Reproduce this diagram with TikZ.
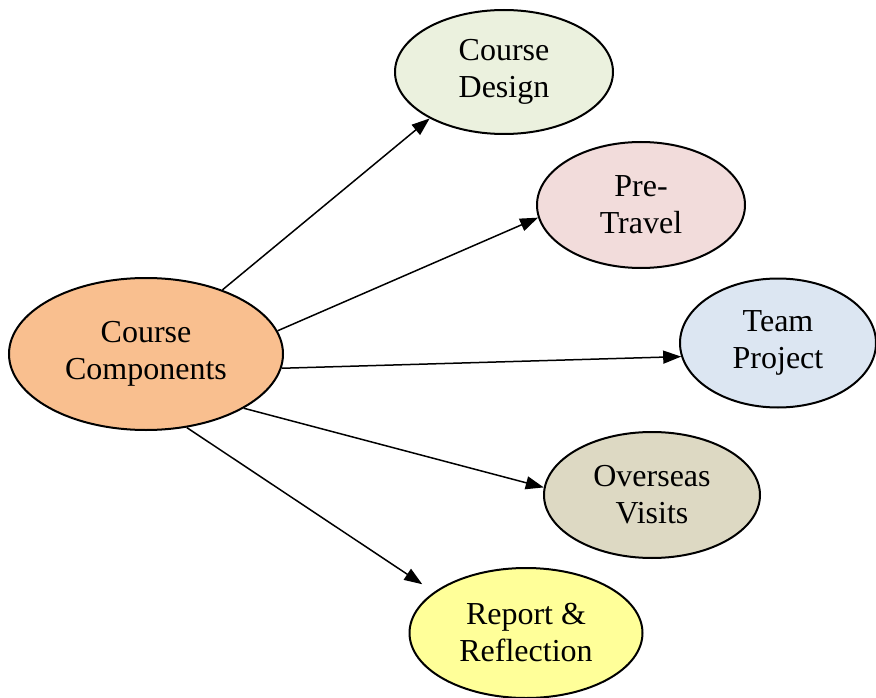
\documentclass[tikz,border=0pt]{standalone}
\usepackage{fontspec}
\setmainfont{Liberation Serif}
\usepackage{tikz}
\usetikzlibrary{arrows.meta,shapes.geometric,positioning}
\definecolor{peach}{HTML}{F9BF8F}
\definecolor{sage}{HTML}{EBF1DE}
\definecolor{rose}{HTML}{F2DCDB}
\definecolor{sky}{HTML}{DCE6F2}
\definecolor{khaki}{HTML}{DDD9C3}
\definecolor{lemon}{HTML}{FFFF99}
\tikzstyle{link}  =[-{Triangle[length=18pt,width=13pt]}, line width=1.5pt]
\tikzstyle{blob}  =[ellipse, draw, line width=2pt, inner sep=0pt,
                    align=center, font=\fontsize{32}{37}\selectfont]

\begin{document}
\begin{tikzpicture}[x=1pt, y=-1pt]
    \useasboundingbox (0,0) rectangle (876,698);
    \node[blob, fill=peach, minimum width=274pt, minimum height=152pt] (cc) at (146,354) {Course\\Components};
    \node[blob, fill=sage,  minimum width=218pt, minimum height=124pt] (design) at (504,72)  {Course\\Design};
    \node[blob, fill=rose,  minimum width=208pt, minimum height=126pt] (pre)    at (641,205) {Pre-\\Travel};
    \node[blob, fill=sky,   minimum width=196pt, minimum height=129pt] (team)   at (778,343) {Team\\Project};
    \node[blob, fill=khaki, minimum width=216pt, minimum height=126pt] (visits) at (652,495) {Overseas\\Visits};
    \node[blob, fill=lemon, minimum width=233pt, minimum height=130pt] (report) at (526,633) {Report \&\\Reflection};

    \draw[link] (cc.40)  -- (design.212);
    \draw[link] (cc.10)  -- (pre.187);
    \draw[link] (cc.-6)  -- (team.188);
    \draw[link] (cc.-29) -- (visits.176);
    \draw[link, shorten >=14pt] (cc.-61) -- (report.156);
\end{tikzpicture}
\end{document}
